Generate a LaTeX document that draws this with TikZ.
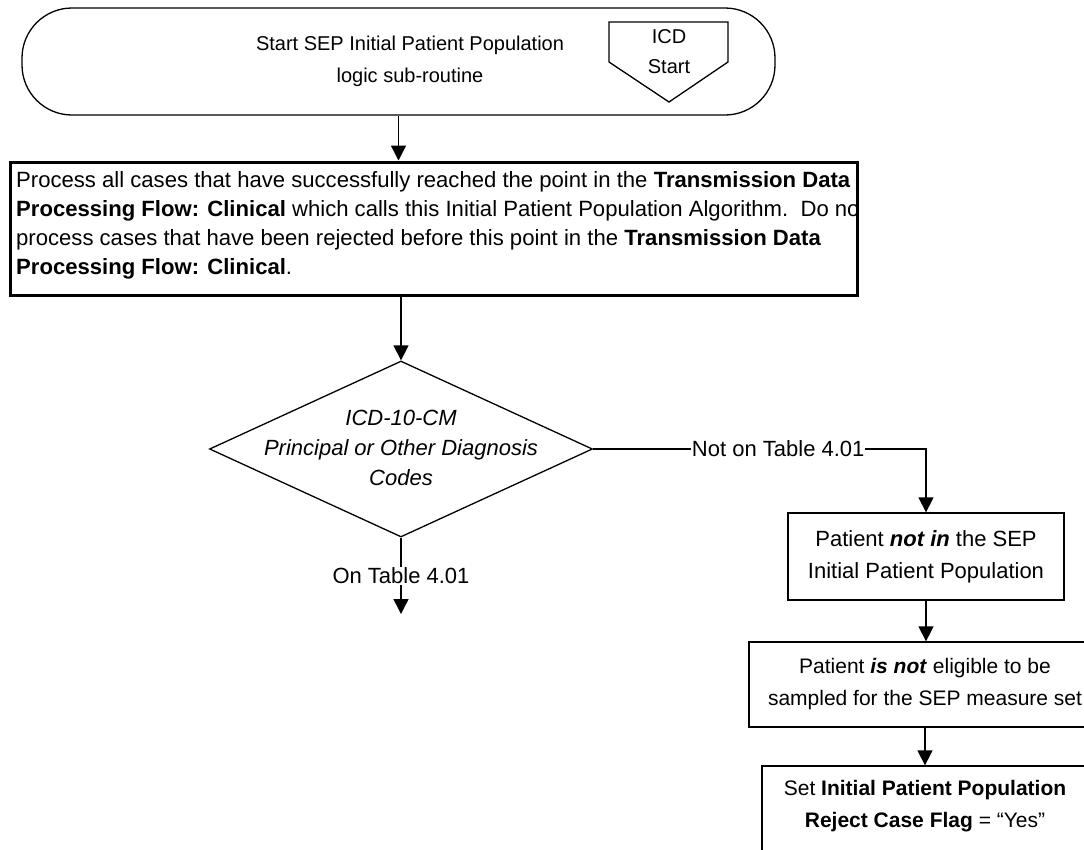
\documentclass[tikz,border=0pt]{standalone}
\usepackage{fontspec}
\setmainfont{Liberation Sans}
\usetikzlibrary{arrows.meta,shapes.geometric}
\begin{document}
\begin{tikzpicture}[x=1pt,y=-1pt,
  font=\fontsize{20}{30}\selectfont,
  big/.style={font=\fontsize{22}{32}\selectfont},
  mid/.style={font=\fontsize{21}{32}\selectfont},
  box/.style={draw, line width=1.3pt, inner sep=0pt, align=center},
  conn/.style={line width=1.4pt, -{Triangle[width=15pt,length=15pt]}}]
\useasboundingbox (0,0) rectangle (1084,849);
\clip (0,0) rectangle (1084,849);
% terminal
\node[draw, line width=1.3pt, rounded corners=50pt, minimum width=753pt, minimum height=107pt] (term) at (398.5,61.5) {};
\node[align=center, font=\fontsize{20}{32}\selectfont] (termtext) at (410,61) {Start SEP Initial Patient Population\\logic sub-routine};
% off-page connector
\draw[line width=1.3pt] (609,22) -- (728,22) -- (728,62) -- (669,102) -- (609,62) -- cycle;
\node[align=center] (icd) at (669,52) {ICD\\Start};
% process box
\node[draw, line width=3pt, minimum width=847pt, minimum height=133pt, inner sep=0pt] (proc) at (433.5,228.5) {};
\begin{scope}
\clip (12,164) rectangle (855,293);
\node[anchor=west, align=left, inner sep=0pt, font=\fontsize{22.1}{29}\selectfont] (proctext) at (16,225)
 {Process all cases that have successfully reached the point in the \textbf{Transmission Data}\\
  \textbf{Processing Flow: Clinical} which calls this Initial Patient Population Algorithm.\ \ Do not\\
  process cases that have been rejected before this point in the \textbf{Transmission Data}\\
  \textbf{Processing Flow: Clinical}.};
\end{scope}
% decision
\node[draw, diamond, line width=1.3pt, minimum width=383pt, minimum height=176pt, inner sep=0pt] (dec) at (401,449) {};
\node[align=center, font=\fontsize{22}{30}\selectfont\itshape] (dectext) at (401,448) {ICD-10-CM\\Principal or Other Diagnosis\\Codes};
% right column boxes
\node[box, big, minimum width=276pt, minimum height=87pt] (nin) at (926,556.5) {Patient \textbf{\textit{not in}} the SEP\\Initial Patient Population};
\node[box, mid, minimum width=352pt, minimum height=85pt] (elig) at (925,684.5) {Patient \textbf{\textit{is not}} eligible to be\\sampled for the SEP measure set};
\node[draw, line width=1.3pt, minimum width=326pt, minimum height=100pt] (flag) at (925,816) {};
\node[align=center, mid] (flagtext) at (925,806) {Set \textbf{Initial Patient Population}\\\textbf{Reject Case Flag} = “Yes”};
% connectors
\coordinate (ontip) at (401,614);
\draw[conn] (term.south) -- (term.south |- proc.north);
\draw[conn] (proc.south -| dec.north) -- (dec.north);
\draw[conn] (dec.south) -- node[fill=white, inner sep=1pt, big] {On Table 4.01} (ontip);
\draw[conn] (dec.east) -- node[fill=white, inner sep=1pt, pos=0.556, big] {Not on Table 4.01} (dec.east -| nin.north) -- (nin.north);
\draw[conn] (nin.south) -- (nin.south |- elig.north);
\draw[conn] (elig.south) -- (elig.south |- flag.north);
\end{tikzpicture}
\end{document}
